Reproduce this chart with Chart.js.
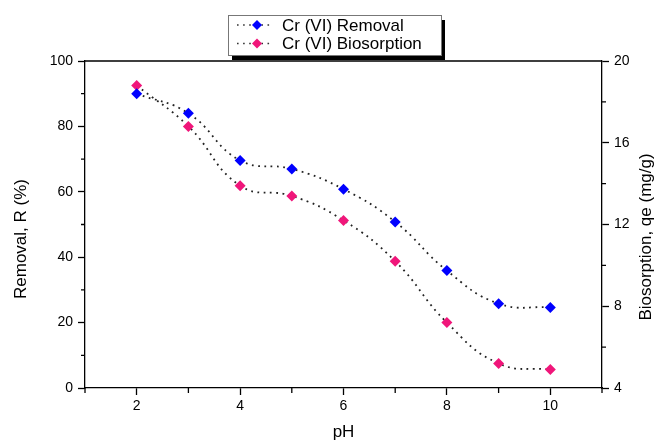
<!DOCTYPE html>
<html>
<head>
<meta charset="utf-8">
<script src="https://cdn.jsdelivr.net/npm/chart.js@4"></script>
<style>
  html, body { margin: 0; padding: 0; background: #fff; }
  #wrap { width: 658px; height: 441px; position: relative; }
</style>
</head>
<body>
<div id="wrap"><canvas id="chart"></canvas></div>
<script>
const pH = [2, 3, 4, 5, 6, 7, 8, 9, 10];
const removal = [90.0, 84.0, 69.6, 67.0, 60.8, 50.8, 35.9, 25.8, 24.6];
const biosorption = [18.8, 16.8, 13.9, 13.4, 12.2, 10.2, 7.2, 5.2, 4.9];
const xTicks = [2, 4, 6, 8, 10];
const xMinor = [1, 3, 5, 7, 9, 11];
const yTicks = [0, 20, 40, 60, 80, 100];
const yMinor = [10, 30, 50, 70, 90];
const y1Ticks = [4, 8, 12, 16, 20];
const y1Minor = [6, 10, 14, 18];

const FONT = "'Liberation Sans', Arial, sans-serif";
const BLUE = "#0000ff";
const PINK = "#f0167a";

// minor ticks, top border, y titles
const framePlugin = {
  id: "frame",
  afterDraw(chart) {
    const ctx = chart.ctx;
    const a = chart.chartArea;
    const sx = chart.scales.x, sy = chart.scales.y, sy1 = chart.scales.y1;
    ctx.save();
    ctx.strokeStyle = "#000";
    ctx.lineWidth = 1.3;
    ctx.beginPath();
    ctx.moveTo(a.left, a.top);
    ctx.lineTo(a.right, a.top);
    xMinor.forEach(v => {
      const px = sx.getPixelForValue(v);
      ctx.moveTo(px, a.bottom);
      ctx.lineTo(px, a.bottom + 5);
    });
    yMinor.forEach(v => {
      const py = sy.getPixelForValue(v);
      ctx.moveTo(a.left, py);
      ctx.lineTo(a.left - 4, py);
    });
    y1Minor.forEach(v => {
      const py = sy1.getPixelForValue(v);
      ctx.moveTo(a.right, py);
      ctx.lineTo(a.right + 4, py);
    });
    ctx.stroke();

    ctx.fillStyle = "#000";
    ctx.font = "17px " + FONT;
    ctx.textAlign = "center";
    ctx.textBaseline = "middle";
    ctx.translate(21, 239);
    ctx.rotate(-Math.PI / 2);
    ctx.fillText("Removal, R (%)", 0, 0);
    ctx.restore();

    ctx.save();
    ctx.fillStyle = "#000";
    ctx.font = "17px " + FONT;
    ctx.textAlign = "center";
    ctx.textBaseline = "middle";
    ctx.translate(646, 237);
    ctx.rotate(-Math.PI / 2);
    ctx.fillText("Biosorption, qe (mg/g)", 0, 0);
    ctx.restore();
  }
};

// legend box with shadow
const legendPlugin = {
  id: "boxLegend",
  afterDraw(chart) {
    const ctx = chart.ctx;
    const bx = 228, by = 15, bw = 213, bh = 40;
    ctx.save();
    ctx.fillStyle = "#000";
    ctx.fillRect(bx + 4, by + 5, bw, bh);
    ctx.fillStyle = "#fff";
    ctx.fillRect(bx, by, bw, bh);
    ctx.strokeStyle = "#777";
    ctx.lineWidth = 1;
    ctx.strokeRect(bx + 0.5, by + 0.5, bw, bh);
    chart.data.datasets.forEach((ds, i) => {
      const cy = by + 10 + i * 18.5;
      ctx.strokeStyle = "#333";
      ctx.lineWidth = 1.6;
      ctx.setLineDash([1.6, 4.5]);
      ctx.beginPath();
      ctx.moveTo(237, cy);
      ctx.lineTo(272, cy);
      ctx.stroke();
      ctx.setLineDash([]);
      ctx.fillStyle = ds.pointBackgroundColor;
      ctx.beginPath();
      ctx.moveTo(257, cy - 5);
      ctx.lineTo(262, cy);
      ctx.lineTo(257, cy + 5);
      ctx.lineTo(252, cy);
      ctx.closePath();
      ctx.fill();
      ctx.fillStyle = "#000";
      ctx.font = "17px " + FONT;
      ctx.textAlign = "left";
      ctx.textBaseline = "middle";
      ctx.fillText(ds.label, 282, cy + 1);
    });
    ctx.restore();
  }
};

function toXY(xs, ys) {
  return xs.map((x, i) => ({ x: x, y: ys[i] }));
}

const ctx = document.getElementById("chart").getContext("2d");
new Chart(ctx, {
  type: "line",
  data: {
    datasets: [
      {
        label: "Cr (VI) Removal",
        data: toXY(pH, removal),
        yAxisID: "y",
        borderColor: "#222",
        borderWidth: 1.8,
        borderDash: [1.8, 4.5],
        tension: 0.45,
        pointStyle: "rectRot",
        pointRadius: 5.5,
        pointBackgroundColor: BLUE,
        pointBorderColor: BLUE,
        pointBorderWidth: 0,
        fill: false
      },
      {
        label: "Cr (VI) Biosorption",
        data: toXY(pH, biosorption),
        yAxisID: "y1",
        borderColor: "#222",
        borderWidth: 1.8,
        borderDash: [1.8, 4.5],
        tension: 0.45,
        pointStyle: "rectRot",
        pointRadius: 5.5,
        pointBackgroundColor: PINK,
        pointBorderColor: PINK,
        pointBorderWidth: 0,
        fill: false
      }
    ]
  },
  options: {
    responsive: true,
    maintainAspectRatio: false,
    animation: false,
    layout: { padding: { top: 61, left: 0, right: 0, bottom: 0 } },
    plugins: {
      legend: { display: false },
      tooltip: { enabled: false }
    },
    scales: {
      x: {
        type: "linear",
        min: 1,
        max: 11,
        afterBuildTicks: s => { s.ticks = xTicks.map(v => ({ value: v })); },
        afterFit: s => { s.height = 53; },
        border: { color: "#000", width: 1.3 },
        grid: { drawOnChartArea: false, tickLength: 7, color: "#000", tickWidth: 1.3 },
        ticks: { color: "#000", padding: 3, font: { family: FONT, size: 14 } },
        title: {
          display: true,
          text: "pH",
          color: "#000",
          padding: 0,
          font: { family: FONT, size: 17, lineHeight: 1 }
        }
      },
      y: {
        position: "left",
        min: 0,
        max: 100,
        afterBuildTicks: s => { s.ticks = yTicks.map(v => ({ value: v })); },
        afterFit: s => { s.width = 85; },
        border: { color: "#000", width: 1.3 },
        grid: { drawOnChartArea: false, tickLength: 7, color: "#000", tickWidth: 1.3 },
        ticks: { color: "#000", padding: 5, font: { family: FONT, size: 14 } }
      },
      y1: {
        position: "right",
        min: 4,
        max: 20,
        afterBuildTicks: s => { s.ticks = y1Ticks.map(v => ({ value: v })); },
        afterFit: s => { s.width = 56; },
        border: { color: "#000", width: 1.3 },
        grid: { drawOnChartArea: false, tickLength: 7, color: "#000", tickWidth: 1.3 },
        ticks: { color: "#000", padding: 5, font: { family: FONT, size: 14 } }
      }
    }
  },
  plugins: [framePlugin, legendPlugin]
});
</script>
</body>
</html>
